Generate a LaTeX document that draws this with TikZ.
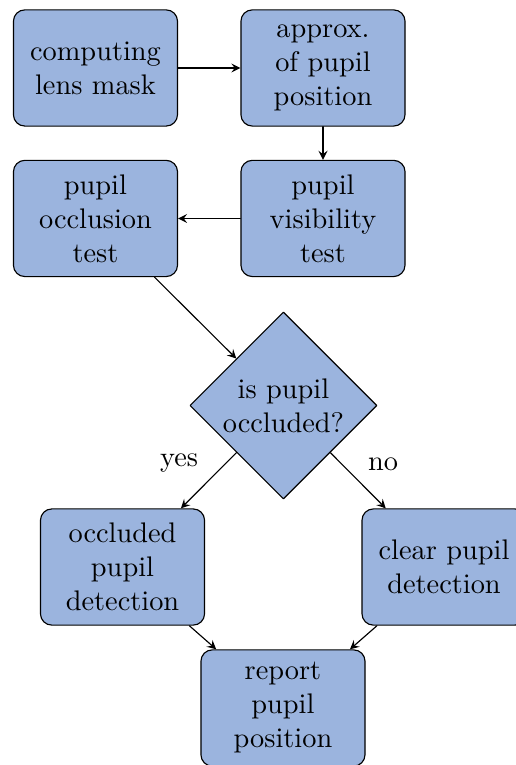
\documentclass[tikz,border=0pt]{standalone}
\usetikzlibrary{shapes.geometric}
\definecolor{boxblue}{RGB}{155,180,222}

\begin{document}
\begin{tikzpicture}[line cap=round,line join=round,>=stealth,
  every node/.style={font=\normalsize},
  stepbox/.style={draw,fill=boxblue,rounded corners=4pt,text width=1.8cm,align=center,minimum height=41pt},
  testbox/.style={draw,fill=boxblue,diamond,aspect=1,inner sep=0pt,minimum size=66pt,align=center},
  flow/.style={->,line width=0.4pt}]
  \def\colL{1.184}
  \def\colR{4.005}
  \useasboundingbox (0,0) rectangle (6.386,-9.486);
  % 上两行
  \node[stepbox] (mask) at (\colL,-0.843) {computing lens mask};
  \node[stepbox] (approx) at (\colR,-0.843) {approx.\\of pupil\\position};
  \node[stepbox] (occtest) at (\colL,-2.709) {pupil\\occlusion\\test};
  \node[stepbox] (vistest) at (\colR,-2.709) {pupil\\visibility\\test};
  % 判断
  \node[testbox] (isocc) at (3.515,-5.028) {is pupil\\occluded?};
  % 检测与输出
  \node[stepbox] (occdet) at (1.519,-7.031) {occluded\\pupil\\detection};
  \node[stepbox] (clrdet) at (5.506,-7.031) {clear pupil\\detection};
  \node[stepbox] (report) at (3.509,-8.779) {report\\pupil\\position};
  % 连线
  \draw[flow] (mask) -- (approx);
  \draw[flow] (approx) -- (vistest);
  \draw[flow] (vistest) -- (occtest);
  \draw[flow] (occtest) -- (isocc);
  \draw[flow] (isocc) -- (occdet);
  \draw[flow] (isocc) -- (clrdet);
  \draw[flow] (occdet) -- (report);
  \draw[flow] (clrdet) -- (report);
  \node (yes) at (2.220,-5.740) {yes};
  \node (no) at (4.750,-5.760) {no};
\end{tikzpicture}
\end{document}
